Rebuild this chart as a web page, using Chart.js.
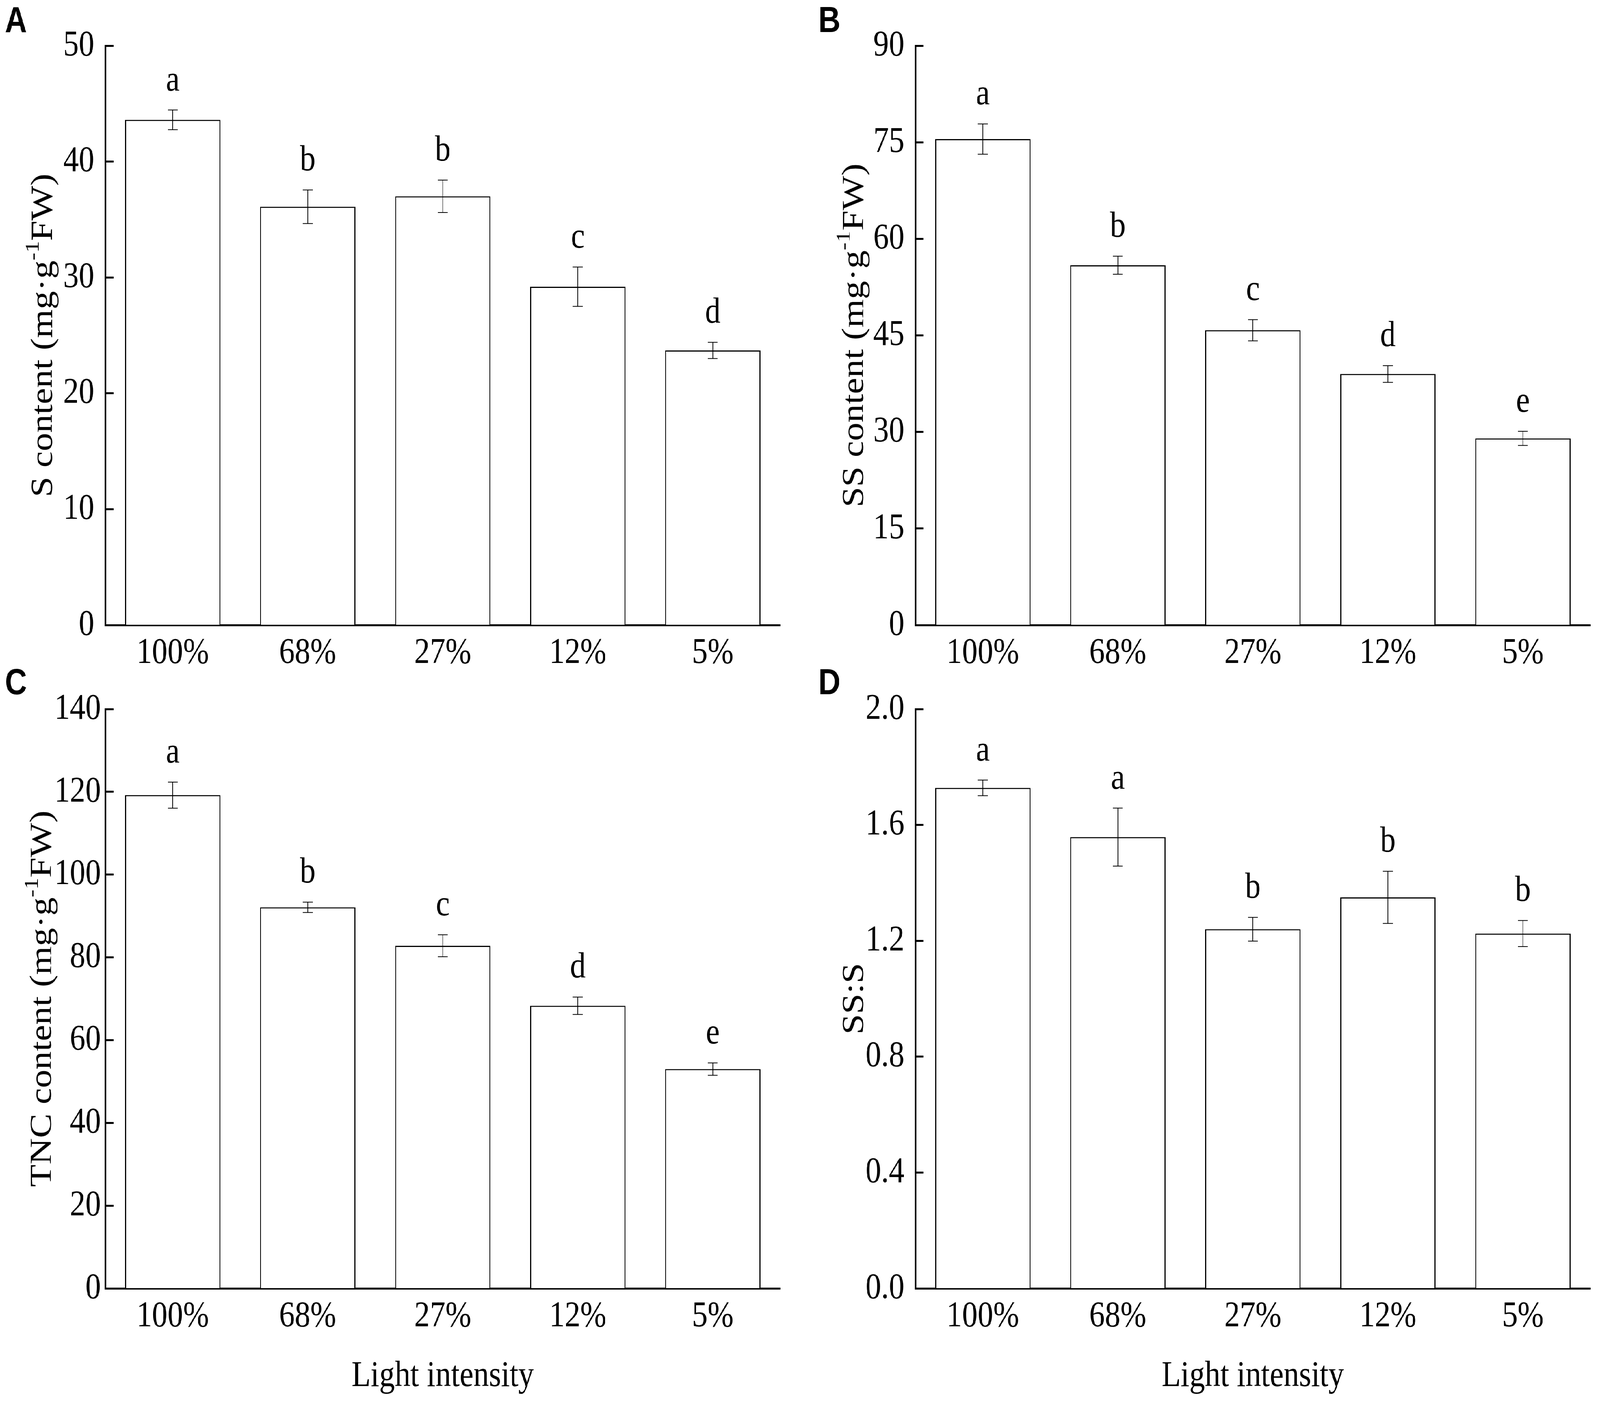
<!DOCTYPE html>
<html><head><meta charset="utf-8">
<script src="https://cdn.jsdelivr.net/npm/chart.js@4.4.0/dist/chart.umd.min.js"></script>
<style>
html,body{margin:0;padding:0;background:#fff;overflow:hidden;}
#wrap{position:absolute;left:0;top:0;width:4835px;height:3599px;transform-origin:0 0;background:#fff;}
canvas{position:absolute;}
</style></head><body>
<div id="wrap">
<canvas id="cA" width="2420" height="1760" style="left:0px;top:0px;width:2420px;height:1760px"></canvas>
<canvas id="cB" width="2415" height="1760" style="left:2420px;top:0px;width:2415px;height:1760px"></canvas>
<canvas id="cC" width="2420" height="1919" style="left:0px;top:1680px;width:2420px;height:1919px"></canvas>
<canvas id="cD" width="2415" height="1919" style="left:2420px;top:1680px;width:2415px;height:1919px"></canvas>
</div>
<script>
// ---- data ----
const categories = ['100%', '68%', '27%', '12%', '5%'];

const sValues  = [43.6, 36.1, 37.0, 29.2, 23.7];
const sErrors  = [0.85, 1.45, 1.4, 1.7, 0.7];
const sLetters = ['a', 'b', 'b', 'c', 'd'];

const ssValues  = [75.5, 55.9, 45.8, 39.0, 29.0];
const ssErrors  = [2.35, 1.4, 1.65, 1.3, 1.1];
const ssLetters = ['a', 'b', 'c', 'd', 'e'];

const tncValues  = [119.2, 92.1, 82.8, 68.3, 53.0];
const tncErrors  = [3.15, 1.25, 2.65, 2.1, 1.5];
const tncLetters = ['a', 'b', 'c', 'd', 'e'];

const ratioValues  = [1.728, 1.558, 1.240, 1.350, 1.225];
const ratioErrors  = [0.027, 0.100, 0.041, 0.090, 0.045];
const ratioLetters = ['a', 'a', 'b', 'b', 'b'];

const sTicks     = {min: 0, max: 50,  step: 10,  decimals: 0};
const ssTicks    = {min: 0, max: 90,  step: 15,  decimals: 0};
const tncTicks   = {min: 0, max: 140, step: 20,  decimals: 0};
const ratioTicks = {min: 0, max: 2.0, step: 0.4, decimals: 1};

const xTitle = 'Light intensity';

// ---- fit the 4835x3599 figure to the actual viewport ----
(function () {
  const sx = (window.innerWidth / 4835) || 1;
  const sy = (window.innerHeight / 3599) || 1;
  document.getElementById('wrap').style.transform = 'scale(' + sx + ',' + sy + ')';
})();

// ---- drawing ----
const SERIF = '"Liberation Serif", "Times New Roman", serif';
const SANS = '"Liberation Sans", Arial, sans-serif';
const FS = 94;

function makePanel(id, values, errors, letters, ticks, titleParts, panelLetter, geo) {
  const annot = {
    id: 'annot_' + id,
    afterDatasetsDraw(chart) {
      const ctx = chart.ctx;
      const xs = chart.scales.x, ys = chart.scales.y;
      ctx.save();
      ctx.strokeStyle = '#000';
      ctx.lineWidth = 2;
      values.forEach((v, i) => {
        const cx = xs.getPixelForValue(i);
        const yt = ys.getPixelForValue(v + errors[i]);
        const yb = ys.getPixelForValue(v - errors[i]);
        ctx.beginPath();
        ctx.moveTo(cx, yt); ctx.lineTo(cx, yb);
        ctx.moveTo(cx - 15, yt); ctx.lineTo(cx + 15, yt);
        ctx.moveTo(cx - 15, yb); ctx.lineTo(cx + 15, yb);
        ctx.stroke();
        ctx.fillStyle = '#000';
        ctx.font = FS + 'px ' + SERIF;
        ctx.textAlign = 'center';
        ctx.textBaseline = 'alphabetic';
        ctx.fillText(letters[i], cx, yt - 50);
      });
      ctx.restore();
    },
    afterDraw(chart) {
      const ctx = chart.ctx;
      const ca = chart.chartArea;
      ctx.save();
      ctx.fillStyle = '#000';
      const cy = (ca.top + ca.bottom) / 2;
      ctx.translate(geo.titleX, cy);
      ctx.rotate(-Math.PI / 2);
      ctx.textBaseline = 'alphabetic';
      ctx.textAlign = 'left';
      let total = 0;
      const widths = titleParts.map(p => {
        ctx.font = (p.sup ? 60 : FS) + 'px ' + SERIF;
        const w = ctx.measureText(p.t).width;
        total += w;
        return w;
      });
      let x = -total / 2;
      titleParts.forEach((p, k) => {
        ctx.font = (p.sup ? 60 : FS) + 'px ' + SERIF;
        ctx.fillText(p.t, x, p.sup ? -40 : 0);
        x += widths[k];
      });
      ctx.restore();
      ctx.save();
      ctx.fillStyle = '#000';
      ctx.font = 'bold 92px ' + SANS;
      ctx.textAlign = 'left';
      ctx.textBaseline = 'alphabetic';
      ctx.fillText(panelLetter, geo.letterX, geo.letterY);
      if (geo.xTitleY) {
        ctx.font = FS + 'px ' + SERIF;
        ctx.textAlign = 'center';
        ctx.fillText(xTitle, (ca.left + ca.right) / 2, geo.xTitleY);
      }
      ctx.restore();
    }
  };

  return new Chart(document.getElementById(id), {
    type: 'bar',
    data: {
      labels: categories,
      datasets: [{
        data: values,
        backgroundColor: '#ffffff',
        borderColor: '#000000',
        borderWidth: 3,
        borderSkipped: 'bottom',
        categoryPercentage: 1.0,
        barPercentage: 0.706
      }]
    },
    options: {
      responsive: false,
      devicePixelRatio: 1,
      animation: false,
      events: [],
      layout: {padding: {top: geo.top, right: geo.right, bottom: 0, left: 0}},
      plugins: {legend: {display: false}, tooltip: {enabled: false}, title: {display: false}},
      scales: {
        x: {
          type: 'category',
          offset: true,
          grid: {
            offset: false,
            drawOnChartArea: false,
            drawTicks: true,
            tickLength: -25,
            tickWidth: 5,
            tickColor: '#000'
          },
          border: {display: true, color: '#000', width: 5},
          ticks: {
            color: '#000',
            font: {family: SERIF, size: FS},
            padding: 41,
            maxRotation: 0,
            autoSkip: false
          },
          afterFit(scale) { scale.height = geo.xHeight; }
        },
        y: {
          min: ticks.min,
          max: ticks.max,
          grid: {
            drawOnChartArea: false,
            drawTicks: true,
            tickLength: -25,
            tickWidth: 5,
            tickColor: '#000'
          },
          border: {display: true, color: '#000', width: 5},
          ticks: {
            stepSize: ticks.step,
            color: '#000',
            font: {family: SERIF, size: FS},
            padding: geo.yPad,
            callback: (v) => Number(v).toFixed(ticks.decimals)
          },
          afterFit(scale) { scale.width = geo.yWidth; }
        }
      }
    },
    plugins: [annot]
  });
}

const supTitle = (name) => [
  {t: name + ' content (mg\u00B7g'}, {t: '-1', sup: true}, {t: 'FW)'}
];

makePanel('cA', sValues, sErrors, sLetters, sTicks, supTitle('S'), 'A',
  {top: 117, right: 62, yWidth: 318, xHeight: 160, yPad: 58, titleX: 157, letterX: 15, letterY: 82});
makePanel('cB', ssValues, ssErrors, ssLetters, ssTicks, supTitle('SS'), 'B',
  {top: 117, right: 29, yWidth: 346, xHeight: 160, yPad: 58, titleX: 188, letterX: 53, letterY: 82});
makePanel('cC', tncValues, tncErrors, tncLetters, tncTicks, supTitle('TNC'), 'C',
  {top: 135, right: 62, yWidth: 318, xHeight: 301, yPad: 38, titleX: 154, letterX: 15, letterY: 97, xTitleY: 1868});
makePanel('cD', ratioValues, ratioErrors, ratioLetters, ratioTicks, [{t: 'SS:S'}], 'D',
  {top: 135, right: 29, yWidth: 346, xHeight: 301, yPad: 58, titleX: 188, letterX: 53, letterY: 97, xTitleY: 1868});
</script>
</body></html>
